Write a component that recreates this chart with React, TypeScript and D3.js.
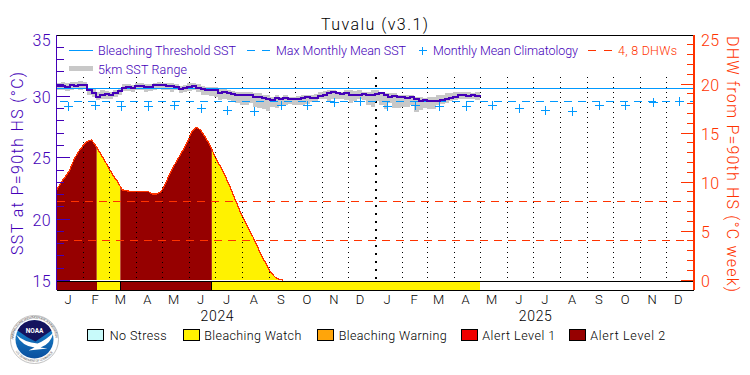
import React from "react";
import * as d3 from "d3";

const W = 750, H = 375;
const FONT = "Roboto, 'Liberation Sans', Arial, sans-serif";

const SAMPLE_DAYS = 5;
const START = new Date(2024, 0, 1);
const END = new Date(2026, 0, 1);

const sstValues = [30.83,30.85,30.74,30.91,30.88,30.96,30.91,30.55,30.24,29.96,30.13,30.19,30.13,30.25,30.41,30.72,30.77,30.72,30.83,30.85,30.77,30.77,30.91,30.94,30.91,30.85,30.85,30.77,30.61,30.72,30.74,30.88,30.72,30.58,30.55,30.55,30.52,30.29,30.37,30.31,30.19,30.13,30.08,30.08,30.13,29.94,29.96,29.86,29.76,
29.72,29.86,29.8,29.88,29.75,29.77,29.8,29.83,29.94,29.86,29.86,30.05,30.13,30.26,30.37,30.24,30.19,30.29,30.13,30.08,30.08,30.19,30.08,30.13,30.19,30.24,30.08,29.91,29.99,29.97,29.91,29.83,29.91,29.8,29.64,29.7,29.64,29.64,29.66,29.7,29.8,29.86,29.91,30.08,30.08,30.05,30.08,30.02,30.13];

const rangeTop = [31.08,31.16,31.08,31.21,31.16,31.27,31.16,30.72,30.61,30.39,30.52,30.44,30.39,30.52,30.72,30.99,31.02,30.94,31.08,31.1,31.02,30.99,31.1,31.16,31.1,31.05,31.05,30.99,30.88,30.94,31.05,31.1,30.99,30.83,30.77,30.77,30.77,30.61,30.66,30.55,30.44,30.39,30.33,30.33,30.33,30.24,30.24,30.13,30.08,
29.97,30.08,29.97,30.08,29.97,29.97,30.02,30.08,30.08,30.08,30.19,30.33,30.44,30.5,30.55,30.39,30.39,30.55,30.5,30.44,30.5,30.39,30.39,30.5,30.5,30.33,30.24,30.28,30.24,30.13,30.13,30.13,30.08,29.91,29.91,29.86,29.91,29.97,30.08,30.13,30.24,30.28,30.39,30.33,30.33,30.39,30.28,30.33,30.39];

const rangeBottom = [30.55,30.5,30.41,30.55,30.61,30.55,30.61,30.13,29.91,29.71,29.8,29.77,29.8,29.91,30.08,30.44,30.44,30.39,30.5,30.5,30.39,30.44,30.5,30.61,30.55,30.5,30.33,30.5,30.24,30.33,30.44,30.5,30.33,30.08,30.08,30.02,29.97,29.71,29.8,29.71,29.6,29.49,29.32,29.27,29.44,29.16,29.05,28.94,28.83,
29.16,29.05,29.27,29.32,29.38,29.32,29.27,29.32,29.38,29.55,29.55,29.8,29.77,29.65,29.8,29.77,29.77,29.71,29.49,29.6,29.8,29.71,29.27,29.16,29.65,29.27,28.99,29.49,29.05,29.05,29.16,29.1,29.32,28.72,28.88,29.05,28.99,28.99,29.27,29.38,29.44,29.6,29.71,29.77,29.8,29.8,29.77,29.71,29.86];

const dhwValues = [9.19,9.94,10.55,11.23,12.32,13.1,13.67,14.15,14.28,13.67,12.93,12.18,11.4,10.61,10.03,9.19,9.12,9.02,9.02,9.05,9.05,9.02,8.77,8.77,9.05,9.87,10.88,11.73,12.51,13.27,14.11,15.13,15.58,15.31,14.63,13.88,12.93,12.01,11.22,10.27,9.25,8.16,7.07,6.19,5.27,4.42,3.47,2.45,1.7,0.85,0.33,0.07,0];

const climatology = [29.16,29.25,29.14,29.14,29.25,29.0,28.87,28.76,29.22,29.25,29.49,29.6,29.16,29.25,29.14,29.14,29.25,29.0,28.87,28.76,29.22,29.25,29.52,29.6];
const monthLabels = ["J","F","M","A","M","J","J","A","S","O","N","D"];
const years = [2024, 2025];

const THRESHOLD = 30.66;
const MMM = 29.6;
const DHW_LINES = [4, 8];

const statusLevels = ["No Stress","Bleaching Watch","Bleaching Warning","Alert Level 1","Alert Level 2"];
const statusColors = ["#C8FAFA","#FFF200","#FFA50A","#F00000","#960000"];
const statusPeriods: [Date, Date, number][] = [
  [new Date(2024,0,1), new Date(2024,1,16), 4],
  [new Date(2024,1,16), new Date(2024,2,14), 1],
  [new Date(2024,2,14), new Date(2024,5,27), 4],
  [new Date(2024,5,27), new Date(2025,3,30), 1],
];
const statusEdges = [new Date(2024,2,14), new Date(2024,5,27)];

const legendBoxX = [87.5, 183.5, 317.5, 461.5, 569.5];
const legendTextX: [number, number][] = [[109.7,57],[204.3,97],[338.7,108],[482.3,73],[590.3,75]];

const PURPLE = "#4400B8", RED = "#FF3300", BLUE = "#0099FF", GRAY = "#C8C8C8";

const x = d3.scaleTime().domain([START, END]).range([56.7, 694]);
const yS = d3.scaleLinear().domain([15, 35]).range([280.5, 35]);
const yD = d3.scaleLinear().domain([0, 25]).range([280, 35]);
const dateAt = (i: number) => d3.timeDay.offset(START, i * SAMPLE_DAYS);

const T = ({ x, y, len, anchor, size, fill = "#000", children, transform }: any) => (
  <text x={x} y={y} textLength={len} lengthAdjust="spacing" textAnchor={anchor} fontSize={size} fill={fill}
    fontFamily={FONT} fontWeight={300} dominantBaseline="central" transform={transform}>{children}</text>
);

function NoaaLogo() {
  const cx = 34.5, cy = 339.5;
  return (
    <g>
      <circle cx={cx} cy={cy} r={24} fill="#fff" stroke="#B0B0B0" strokeWidth={0.8} />
      <defs>
        <path id="logoRing" d={`M ${cx-21} ${cy} a 21 21 0 1 1 42 0`} />
        <path id="logoRing2" d={`M ${cx-22.5} ${cy} a 22.5 22.5 0 0 0 45 0`} />
        <linearGradient id="sea" x1="0" y1="0" x2="0" y2="1">
          <stop offset="0" stopColor="#1C8FD6" />
          <stop offset="1" stopColor="#0A4F9E" />
        </linearGradient>
      </defs>
      <text fontSize={3.4} fill="#666" fontFamily={FONT}><textPath href="#logoRing" textLength={64}>NATIONAL OCEANIC AND ATMOSPHERIC ADMINISTRATION</textPath></text>
      <text fontSize={3.2} fill="#666" fontFamily={FONT}><textPath href="#logoRing2" startOffset="18%" textLength={44}>U.S. DEPARTMENT OF COMMERCE</textPath></text>
      <circle cx={cx} cy={cy} r={19} fill="url(#sea)" />
      <path d={`M ${cx-17} ${cy-9} A 19 19 0 0 1 ${cx+17} ${cy-9} L ${cx+1} ${cy+2} Q ${cx-8} ${cy-2} ${cx-17} ${cy-9} Z`} fill="#14145E" />
      <path d={`M ${cx-18.5} ${cy-5} Q ${cx-10} ${cy+3} ${cx+3} ${cy+4} Q ${cx+11} ${cy+1} ${cx+19} ${cy-7} Q ${cx+16} ${cy+5} ${cx+6} ${cy+8} L ${cx+13} ${cy+9} L ${cx-6} ${cy+11} L ${cx} ${cy+8} Q ${cx-12} ${cy+7} ${cx-18.5} ${cy-5} Z`} fill="#fff" />
      <text x={cx} y={cy-8.5} textAnchor="middle" dominantBaseline="central" fontSize={6.5} fontWeight="bold" fill="#fff" fontFamily={FONT}>NOAA</text>
    </g>
  );
}

export default function App() {
  const idx = d3.range(sstValues.length);
  const rangeArea = d3.area<number>().x(i => x(dateAt(i))).y0(i => yS(rangeBottom[i])).y1(i => yS(rangeTop[i])).curve(d3.curveStepAfter)(idx)!;
  const sstLine = d3.line<number>().x(i => x(dateAt(i))).y(i => yS(sstValues[i])).curve(d3.curveStepAfter)(idx)!;
  const dIdx = d3.range(dhwValues.length);
  const dhwArea = d3.area<number>().x(i => x(dateAt(i))).y0(yD(0)).y1(i => yD(dhwValues[i]))(dIdx)!;
  const dhwLine = d3.line<number>().x(i => x(dateAt(i))).y(i => yD(dhwValues[i]))(dIdx)!;
  const months = d3.timeMonth.range(START, END);
  const x0 = x.range()[0], x1 = x.range()[1];
  const top = 35, barTop = 281, bottom = 290;

  return (
    <svg width={W} height={H} viewBox={`0 0 ${W} ${H}`} style={{ position: "absolute", left: 0, top: 0, background: "#fff" }}>
      <defs>
        {statusPeriods.map(([a, b], i) => (
          <clipPath id={`seg${i}`} key={i}>
            <rect x={x(a)} y={top} width={x(b) - x(a)} height={barTop - top} />
          </clipPath>
        ))}
      </defs>

      <T x={374.5} y={24} len={107} anchor="middle" size={16}>Tuvalu (v3.1)</T>

      {statusPeriods.map(([, , lv], i) => (
        <path key={i} d={dhwArea} fill={statusColors[lv]} clipPath={`url(#seg${i})`} shapeRendering="crispEdges" />
      ))}
      <path d={dhwLine} fill="none" stroke={RED} strokeWidth={1.3} shapeRendering="crispEdges" />

      {statusPeriods.map(([a, b, lv], i) => (
        <rect key={i} x={x(a)} y={barTop} width={x(b) - x(a)} height={bottom - barTop} fill={statusColors[lv]} shapeRendering="crispEdges" />
      ))}
      {statusEdges.map((d, i) => (
        <line key={i} x1={x(d)} x2={x(d)} y1={barTop} y2={bottom} stroke="#000" strokeWidth={1} shapeRendering="crispEdges" />
      ))}

      {months.slice(1).map((m, i) => {
        const yearStart = m.getMonth() === 0;
        return (
          <line key={i} x1={x(m)} x2={x(m)} y1={77} y2={barTop - 1} stroke="#000"
            strokeWidth={yearStart ? 2 : 1} strokeDasharray={yearStart ? "1.5 6.5" : "1 4"} shapeRendering="crispEdges" />
        );
      })}

      <path d={rangeArea} fill={GRAY} shapeRendering="crispEdges" />
      <line x1={x0} x2={x1} y1={yS(THRESHOLD)} y2={yS(THRESHOLD)} stroke={BLUE} strokeWidth={1} shapeRendering="crispEdges" />
      <line x1={x0 + 3} x2={x1} y1={yS(MMM)} y2={yS(MMM)} stroke={BLUE} strokeWidth={1} strokeDasharray="8 6" shapeRendering="crispEdges" />
      <path d={sstLine} fill="none" stroke={PURPLE} strokeWidth={2} shapeRendering="crispEdges" />
      {climatology.map((v, i) => {
        const px = x(d3.timeDay.offset(months[i], 14)), py = yS(v);
        return (
          <g key={i} stroke={BLUE} strokeWidth={1} shapeRendering="crispEdges">
            <line x1={px - 4.5} x2={px + 4.5} y1={py} y2={py} />
            <line x1={px} x2={px} y1={py - 4.5} y2={py + 4.5} />
          </g>
        );
      })}
      {DHW_LINES.map(v => (
        <line key={v} x1={x0 + (v === 4 ? 3 : 0)} x2={x1} y1={yD(v)} y2={yD(v)} stroke={RED} strokeWidth={1} strokeDasharray="8 6" shapeRendering="crispEdges" />
      ))}

      <g stroke="#000" strokeWidth={1} shapeRendering="crispEdges">
        <line x1={x0} x2={x1} y1={top} y2={top} />
        <line x1={x0} x2={x1} y1={barTop} y2={barTop} />
        <line x1={x0} x2={x1} y1={bottom} y2={bottom} />
      </g>

      <g stroke={PURPLE} strokeWidth={1} shapeRendering="crispEdges">
        <line x1={x0} x2={x0} y1={top} y2={bottom} strokeWidth={1.4} />
        {d3.range(15, 35).map(v => (
          <line key={v} x1={x0} x2={x0 + (v % 5 === 0 ? 13 : 7)} y1={yS(v)} y2={yS(v)} />
        ))}
      </g>
      <g stroke={RED} strokeWidth={1} shapeRendering="crispEdges">
        <line x1={x1} x2={x1} y1={top} y2={bottom} strokeWidth={1.4} />
        {d3.range(0, 25).map(v => (
          <line key={v} x1={x1 - (v % 5 === 0 ? 13 : 7)} x2={x1} y1={yD(v)} y2={yD(v)} />
        ))}
      </g>

      {yS.ticks(4).map(v => (
        <T key={v} x={50.5} y={v === 35 ? 40 : yS(v) + 1} len={18} anchor="end" size={16} fill={PURPLE}>{v}</T>
      ))}
      {yD.ticks(5).map(v => (
        <T key={v} x={701} y={v === 25 ? 40 : yD(v) + 1} len={v < 10 ? 8 : 18} anchor="start" size={16} fill={RED}>{v}</T>
      ))}
      <T x={0} y={0} len={183} anchor="middle" size={16} fill={PURPLE} transform="translate(17 163.5) rotate(-90)">SST at P=90th HS (°C)</T>
      <T x={0} y={0} len={256} anchor="middle" size={16} fill={RED} transform="translate(732 164) rotate(90)">DHW from P=90th HS (°C week)</T>

      {months.map((m, i) => (
        <T key={i} x={x(d3.timeDay.offset(m, 13))} y={299} anchor="middle" size={13}>{monthLabels[m.getMonth()]}</T>
      ))}
      {years.map(yr => (
        <T key={yr} x={x(new Date(yr, 6, 3))} y={315.7} len={33} anchor="middle" size={14}>{yr}</T>
      ))}

      <line x1={69} x2={93} y1={50.5} y2={50.5} stroke={BLUE} shapeRendering="crispEdges" />
      <T x={98} y={50.7} len={138} anchor="start" size={12.5} fill={PURPLE}>Bleaching Threshold SST</T>
      <line x1={247} x2={270} y1={50.5} y2={50.5} stroke={BLUE} strokeDasharray="8 7" shapeRendering="crispEdges" />
      <T x={276} y={50.7} len={130} anchor="start" size={12.5} fill={PURPLE}>Max Monthly Mean SST</T>
      <g stroke={BLUE} shapeRendering="crispEdges">
        <line x1={418.5} x2={426.5} y1={50.5} y2={50.5} />
        <line x1={422.5} x2={422.5} y1={46.5} y2={54.5} />
      </g>
      <T x={433} y={50.7} len={145} anchor="start" size={12.5} fill={PURPLE}>Monthly Mean Climatology</T>
      <line x1={588} x2={612} y1={50.5} y2={50.5} stroke={RED} strokeDasharray="8 8" shapeRendering="crispEdges" />
      <T x={618} y={50.7} len={59} anchor="start" size={12.5} fill={RED}>4, 8 DHWs</T>
      <line x1={69} x2={93} y1={68} y2={68} stroke={GRAY} strokeWidth={5} shapeRendering="crispEdges" />
      <T x={98} y={69} len={89} anchor="start" size={12.5} fill={PURPLE}>5km SST Range</T>

      {statusLevels.map((s, i) => (
        <g key={s}>
          <rect x={legendBoxX[i]} y={329.5} width={16} height={11} fill={statusColors[i]} stroke="#000" strokeWidth={1} shapeRendering="crispEdges" />
          <T x={legendTextX[i][0]} y={335.7} len={legendTextX[i][1]} anchor="start" size={12.5}>{s}</T>
        </g>
      ))}

      <NoaaLogo />
    </svg>
  );
}
